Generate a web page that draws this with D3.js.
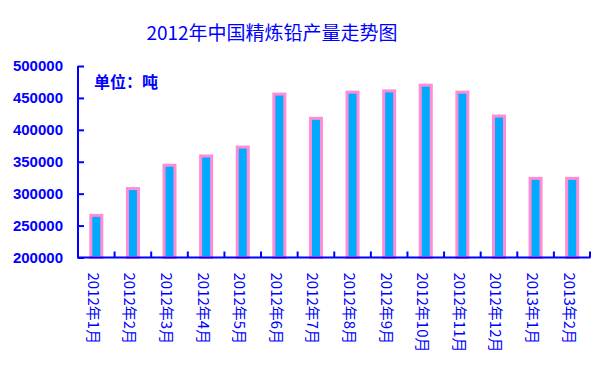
<!DOCTYPE html>
<html><head><meta charset="utf-8">
<script src="https://cdn.jsdelivr.net/npm/d3@7"></script>
<style>body{margin:0;background:#fff}svg{display:block}</style>
</head><body>
<svg id="c" width="603" height="384"></svg>
<script>
const titleText = "2012年中国精炼铅产量走势图";
const unitText = "单位：吨";
const categories = ["2012年1月","2012年2月","2012年3月","2012年4月","2012年5月","2012年6月","2012年7月","2012年8月","2012年9月","2012年10月","2012年11月","2012年12月","2013年1月","2013年2月"];
const production = [266000,308000,344500,359000,373000,456000,418000,459000,461000,470000,459000,421500,324000,324000];
const yTicks = [200000,250000,300000,350000,400000,450000,500000];

(function () {
const svg = d3.select("#c");
const blue = "#0000ff";
const mLeft = 78, mRight = 590.5, mTop = 66, mBottom = 257.5;

const x = d3.scaleBand().domain(categories).range([mLeft, mRight]).padding(0);
const y = d3.scaleLinear().domain([200000, 500000]).range([mBottom, mTop]);

svg.append("text").attr("x", 272).attr("y", 40).attr("text-anchor", "middle")
  .attr("font-family", "'Noto Sans CJK SC', sans-serif").attr("font-size", 19)
  .attr("fill", blue).text(titleText);

// bars
const bw = 11;
svg.append("g").selectAll("rect").data(production).join("rect")
  .attr("x", (d, i) => x(categories[i]) + x.bandwidth() / 2 - bw / 2)
  .attr("y", d => y(d))
  .attr("width", bw)
  .attr("height", d => mBottom - y(d))
  .attr("fill", "#00aaff")
  .attr("stroke", "#ff8cd4")
  .attr("stroke-width", 3);

// y axis
const yAxis = d3.axisLeft(y).tickValues(yTicks).tickSize(0).tickPadding(15).tickFormat(d3.format("d"));
const gy = svg.append("g").attr("transform", `translate(${mLeft},0)`).call(yAxis);
gy.select(".domain").attr("stroke", blue).attr("stroke-width", 2).attr("d", `M0,${mTop}V${mBottom}`);
gy.selectAll(".tick line").attr("stroke", blue).attr("stroke-width", 2).attr("x1", 0).attr("x2", 6);
gy.selectAll(".tick text").attr("fill", blue).attr("font-family", "'Liberation Sans', Arial, sans-serif")
  .attr("font-size", 15).attr("font-weight", "bold");

// x axis
const xAxis = d3.axisBottom(x).tickSize(0).tickPadding(0);
const gx = svg.append("g").attr("transform", `translate(0,${mBottom})`).call(xAxis);
gx.select(".domain").attr("stroke", blue).attr("stroke-width", 2).attr("d", `M${mLeft - 1},0H${mRight}`);
gx.selectAll(".tick text")
  .attr("fill", blue)
  .attr("font-family", "'Noto Sans CJK SC', sans-serif")
  .attr("font-size", 15)
  .attr("text-anchor", "start")
  .attr("dominant-baseline", "central")
  .attr("transform", "translate(-2,15) rotate(90)")
  .attr("x", 0).attr("y", 0).attr("dy", null);
// boundary ticks
const bounds = categories.map((c, i) => i < categories.length - 1 ? x(categories[i + 1]) : mRight - 0.5);
svg.append("g").selectAll("line").data(bounds).join("line")
  .attr("x1", d => d).attr("x2", d => d)
  .attr("y1", mBottom).attr("y2", mBottom - 6)
  .attr("stroke", blue).attr("stroke-width", 2);

svg.append("text").attr("x", 94).attr("y", 88)
  .attr("font-family", "'Noto Sans CJK SC', sans-serif").attr("font-size", 16).attr("font-weight", "bold")
  .attr("fill", blue).text(unitText);
})();
</script>
</body></html>
